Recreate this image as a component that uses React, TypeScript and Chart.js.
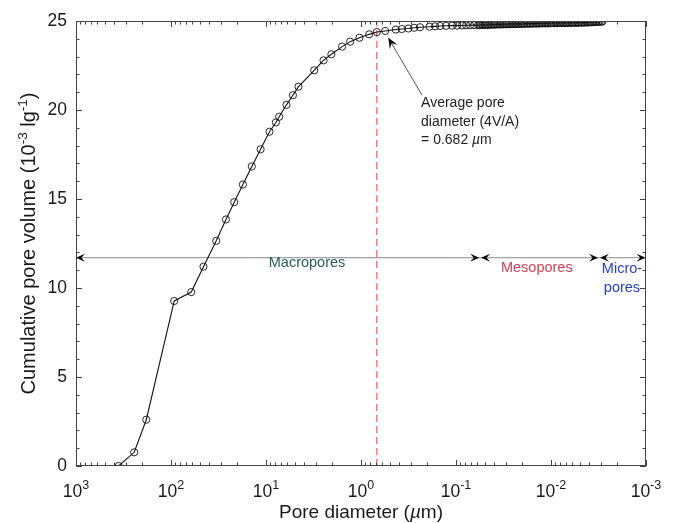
import React, { useEffect, useRef } from 'react';
import { Chart, registerables } from 'chart.js';

Chart.register(...registerables);

// Pore diameter (µm) and cumulative pore volume (10^-3 l/g)
const diameters = [
  356, 244, 182, 92.5, 61.2, 45.5, 33.4, 26.4, 21.6, 17.5, 14.1, 11.4, 9.19, 7.87, 7.26,
  6.09, 5.21, 4.55, 3.11, 2.48, 2.05, 1.58, 1.3, 1.04, 0.82, 0.681, 0.557, 0.43, 0.372,
  0.317, 0.276, 0.239, 0.19, 0.166, 0.147, 0.127, 0.11, 0.0973, 0.0863, 0.0783, 0.0711,
  0.0646,
  0.0585, 0.0564, 0.0544, 0.0525, 0.0506, 0.0488, 0.0471, 0.0454, 0.0438, 0.0422,
  0.0407, 0.0393, 0.0379, 0.0365, 0.0352, 0.034, 0.0327, 0.0316, 0.0304, 0.0294,
  0.0283, 0.0273, 0.0263, 0.0254, 0.0245, 0.0236, 0.0228, 0.022, 0.0212, 0.0204,
  0.0197, 0.019, 0.0183, 0.0177, 0.017, 0.0164, 0.0158, 0.0153, 0.0147, 0.0142,
  0.0137, 0.0132, 0.0127, 0.0123, 0.0118, 0.0114, 0.011, 0.0106, 0.0102, 0.00987,
  0.00951, 0.00917, 0.00885, 0.00853, 0.00823, 0.00793, 0.00765, 0.00738, 0.00711, 0.00686,
  0.00662, 0.00638, 0.00615, 0.00593, 0.00572, 0.00552, 0.00532, 0.00513, 0.00495, 0.00477,
  0.0046, 0.00444, 0.00428, 0.00412, 0.00398, 0.00384, 0.0037, 0.00357, 0.00344, 0.00332,
  0.0032, 0.00308, 0.00297, 0.00287,
];
const volumes = [
  0, 0.77, 2.6, 9.27, 9.77, 11.2, 12.65, 13.85, 14.82, 15.81, 16.83, 17.79, 18.78, 19.3, 19.62,
  20.29, 20.83, 21.31, 22.23, 22.79, 23.13, 23.56, 23.84, 24.06, 24.25, 24.38, 24.44, 24.52, 24.55,
  24.58, 24.62, 24.65, 24.68, 24.7, 24.72, 24.73, 24.74, 24.74, 24.75, 24.76, 24.76,
  24.77,
  24.77, 24.77, 24.78, 24.78, 24.78, 24.79, 24.79, 24.79, 24.79, 24.8,
  24.8, 24.8, 24.8, 24.81, 24.81, 24.81, 24.81, 24.82, 24.82, 24.82,
  24.82, 24.83, 24.83, 24.83, 24.83, 24.83, 24.84, 24.84, 24.84, 24.84,
  24.84, 24.85, 24.85, 24.85, 24.85, 24.85, 24.86, 24.86, 24.86, 24.86,
  24.86, 24.86, 24.87, 24.87, 24.87, 24.87, 24.87, 24.87, 24.88, 24.88,
  24.88, 24.88, 24.88, 24.88, 24.89, 24.89, 24.89, 24.89, 24.89, 24.89,
  24.89, 24.9, 24.9, 24.9, 24.9, 24.9, 24.9, 24.91, 24.91, 24.91,
  24.91, 24.91, 24.92, 24.92, 24.92, 24.93, 24.93, 24.94, 24.94, 24.95,
  24.95, 24.96, 24.96, 24.97,
];

const averageDiameter = 0.682;
const yRange = [0, 25];
const xRange = [0.001, 1000];

const xTickValues = [1000, 100, 10, 1, 0.1, 0.01, 0.001];
const xTickExponents = ['3', '2', '1', '0', '-1', '-2', '-3'];
const yTickValues = [0, 5, 10, 15, 20, 25];

const poreClassLevel = 11.7;
const poreClasses = ['Macropores', 'Mesopores', 'Micro-|pores'];
const poreClassStart = [1000, 0.0544, 0.00305];
const poreClassEnd = [0.057, 0.0032, 0.00101];
const poreClassLabelX = [3.7, 0.0141, 0.00179];
const poreClassLabelY = [11.39, 11.1, 11.05];
const poreClassColors = ['#245f57', '#e23a52', '#1f3fdc'];

const annotationTip = [0.518, 24.07];
const annotationTail = [0.2276, 20.83];
const annotationLines = ['Average pore', 'diameter (4V/A)', '= 0.682 |µ|m'];

const FONT = '"Liberation Sans", Arial, Helvetica, sans-serif';

type Part = { t: string; size: number; dy?: number; italic?: boolean };

function drawRich(ctx: CanvasRenderingContext2D, parts: Part[], x: number, y: number, align: 'left' | 'center') {
  let w = 0;
  for (const p of parts) {
    ctx.font = `${p.italic ? 'italic ' : ''}${p.size}px ${FONT}`;
    w += ctx.measureText(p.t).width;
  }
  let cx = align === 'center' ? x - w / 2 : x;
  ctx.textAlign = 'left';
  ctx.textBaseline = 'alphabetic';
  for (const p of parts) {
    ctx.font = `${p.italic ? 'italic ' : ''}${p.size}px ${FONT}`;
    ctx.fillText(p.t, cx, y + (p.dy || 0));
    cx += ctx.measureText(p.t).width;
  }
}

function arrowHead(ctx: CanvasRenderingContext2D, tx: number, ty: number, ux: number, uy: number, len: number, half: number) {
  const px = -uy;
  const py = ux;
  ctx.beginPath();
  ctx.moveTo(tx, ty);
  ctx.lineTo(tx - ux * len + px * half, ty - uy * len + py * half);
  ctx.lineTo(tx - ux * len * 0.6, ty - uy * len * 0.6);
  ctx.lineTo(tx - ux * len - px * half, ty - uy * len - py * half);
  ctx.closePath();
  ctx.fill();
}

const decorPlugin = {
  id: 'decor',
  afterDatasetsDraw(chart: any) {
    const ctx: CanvasRenderingContext2D = chart.ctx;
    const xs = chart.scales.x;
    const ys = chart.scales.y;
    ctx.save();
    ctx.fillStyle = '#000';
    const yl = ys.getPixelForValue(poreClassLevel);
    for (let i = 0; i < poreClasses.length; i++) {
      const x0 = xs.getPixelForValue(poreClassStart[i]);
      const x1 = xs.getPixelForValue(poreClassEnd[i]);
      arrowHead(ctx, x0, yl, -1, 0, 9, 4);
      arrowHead(ctx, x1, yl, 1, 0, 9, 4);
      ctx.fillStyle = poreClassColors[i];
      const lines = poreClasses[i].split('|');
      const lx = xs.getPixelForValue(poreClassLabelX[i]);
      let ly = ys.getPixelForValue(poreClassLabelY[i]);
      ctx.font = `14.5px ${FONT}`;
      ctx.textAlign = 'center';
      ctx.textBaseline = 'middle';
      for (const l of lines) {
        ctx.fillText(l, lx, ly);
        ly += 18.5;
      }
      ctx.fillStyle = '#000';
    }
    const tipX = xs.getPixelForValue(annotationTip[0]);
    const tipY = ys.getPixelForValue(annotationTip[1]);
    const tailX = xs.getPixelForValue(annotationTail[0]);
    const tailY = ys.getPixelForValue(annotationTail[1]);
    const dx = tipX - tailX;
    const dy = tipY - tailY;
    const d = Math.hypot(dx, dy);
    ctx.strokeStyle = '#555';
    ctx.lineWidth = 1;
    ctx.beginPath();
    ctx.moveTo(tailX, tailY);
    ctx.lineTo(tipX - (dx / d) * 6, tipY - (dy / d) * 6);
    ctx.stroke();
    ctx.fillStyle = '#111';
    arrowHead(ctx, tipX, tipY, dx / d, dy / d, 11, 4.5);
    ctx.fillStyle = '#222';
    let ty = tailY + 12;
    for (const line of annotationLines) {
      const segs = line.split('|');
      const parts: Part[] = segs.map((s, k) => ({ t: s, size: 14, italic: k === 1 }));
      drawRich(ctx, parts, tailX - 1, ty, 'left');
      ty += 18.5;
    }
    ctx.restore();
  },
  afterDraw(chart: any) {
    const ctx: CanvasRenderingContext2D = chart.ctx;
    const xs = chart.scales.x;
    const ys = chart.scales.y;
    const a = chart.chartArea;
    ctx.save();
    ctx.strokeStyle = '#444';
    ctx.lineWidth = 1;
    ctx.strokeRect(Math.round(a.left) + 0.5, Math.round(a.top) + 0.5, Math.round(a.right - a.left) - 1, Math.round(a.bottom - a.top) - 1);
    ctx.beginPath();
    for (let n = -3; n <= 3; n++) {
      for (let k = 1; k <= 9; k++) {
        const v = k * Math.pow(10, n);
        if (v > xRange[1] * 1.0001 || v < xRange[0] * 0.9999) continue;
        const px = Math.round(xs.getPixelForValue(v)) + 0.5;
        const len = k === 1 ? 6 : 3.5;
        ctx.moveTo(px, a.bottom);
        ctx.lineTo(px, a.bottom - len);
        ctx.moveTo(px, a.top);
        ctx.lineTo(px, a.top + len);
      }
    }
    for (let v = yRange[0]; v <= yRange[1]; v++) {
      const py = Math.round(ys.getPixelForValue(v)) + 0.5;
      const len = v % 5 === 0 ? 6 : 3.5;
      ctx.moveTo(a.left, py);
      ctx.lineTo(a.left + len, py);
      ctx.moveTo(a.right, py);
      ctx.lineTo(a.right - len, py);
    }
    ctx.stroke();
    ctx.fillStyle = '#1a1a1a';
    for (let i = 0; i < xTickValues.length; i++) {
      const px = xs.getPixelForValue(xTickValues[i]);
      drawRich(ctx, [
        { t: '10', size: 17.5 },
        { t: xTickExponents[i], size: 12.5, dy: -8 },
      ], px, a.bottom + 31, 'center');
    }
    ctx.font = `17.5px ${FONT}`;
    ctx.textAlign = 'right';
    ctx.textBaseline = 'middle';
    for (const v of yTickValues) {
      ctx.fillText(String(v), a.left - 9, ys.getPixelForValue(v));
    }
    drawRich(ctx, [
      { t: 'Pore diameter (', size: 19 },
      { t: 'µ', size: 19, italic: true },
      { t: 'm)', size: 19 },
    ], (a.left + a.right) / 2, a.bottom + 52, 'center');
    ctx.translate(35, (a.top + a.bottom) / 2);
    ctx.rotate(-Math.PI / 2);
    drawRich(ctx, [
      { t: 'Cumulative pore volume (10', size: 20 },
      { t: '-3', size: 13.5, dy: -8.5 },
      { t: ' lg', size: 20 },
      { t: '-1', size: 13.5, dy: -8.5 },
      { t: ')', size: 20 },
    ], 0, 0, 'center');
    ctx.restore();
  },
};

export default function App() {
  const ref = useRef<HTMLCanvasElement | null>(null);
  useEffect(() => {
    document.body.style.margin = '0';
    const canvas = ref.current;
    if (!canvas) return;
    const chart = new Chart(canvas, {
      type: 'scatter',
      data: {
        datasets: [
          {
            data: diameters.map((d, i) => ({ x: d, y: volumes[i] })),
            showLine: true,
            borderColor: '#111',
            borderWidth: 1.1,
            pointRadius: 3.6,
            pointBorderWidth: 0.9,
            pointBorderColor: '#111',
            pointBackgroundColor: 'rgba(0,0,0,0)',
            tension: 0,
          },
          {
            data: [
              { x: averageDiameter, y: yRange[0] },
              { x: averageDiameter, y: yRange[1] },
            ],
            showLine: true,
            borderColor: '#ff5c5c',
            borderWidth: 1.2,
            borderDash: [7, 4],
            pointRadius: 0,
          },
          {
            data: [
              { x: xRange[1], y: poreClassLevel },
              { x: poreClassEnd[2], y: poreClassLevel },
            ],
            showLine: true,
            borderColor: '#8a8a8a',
            borderWidth: 1,
            pointRadius: 0,
          },
        ],
      },
      options: {
        responsive: false,
        animation: false,
        events: [],
        layout: { padding: { top: 21, right: 30, left: 0, bottom: 0 } },
        plugins: { legend: { display: false }, tooltip: { enabled: false } },
        scales: {
          x: {
            type: 'logarithmic',
            min: xRange[0],
            max: xRange[1],
            reverse: true,
            grid: { display: false },
            border: { display: false },
            ticks: { display: false },
            afterFit: (s: any) => { s.height = 57; },
          },
          y: {
            type: 'linear',
            min: yRange[0],
            max: yRange[1],
            grid: { display: false },
            border: { display: false },
            ticks: { display: false },
            afterFit: (s: any) => { s.width = 76; },
          },
        },
      },
      plugins: [decorPlugin],
    });
    return () => chart.destroy();
  }, []);
  return (
    <div style={{ width: 676, height: 523, background: '#fff' }}>
      <canvas ref={ref} width={676} height={523} style={{ display: 'block' }} />
    </div>
  );
}
